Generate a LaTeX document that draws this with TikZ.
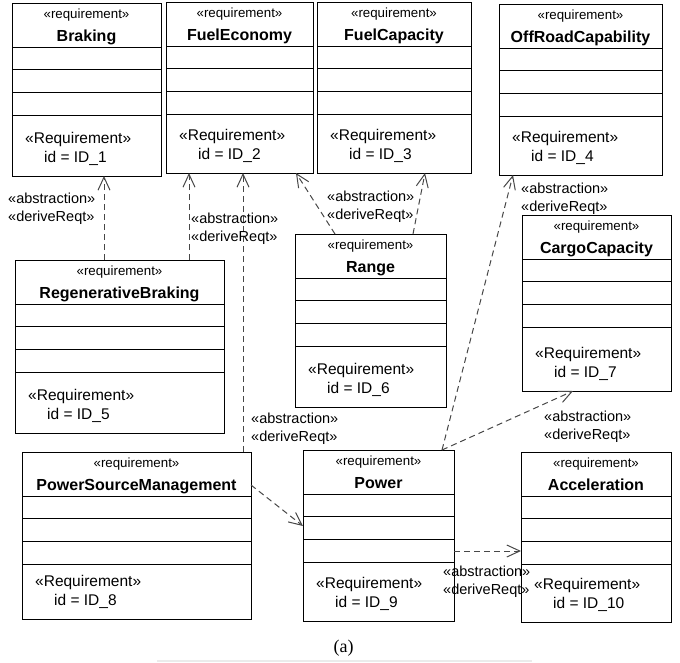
\documentclass[tikz,border=0pt]{standalone}
\usepackage{fontspec}
\setmainfont{Liberation Sans}
\newfontfamily\capfont{Liberation Serif}
\usetikzlibrary{arrows.meta,calc}
\newcommand{\reqbox}[7]{%
  \node[rbox, minimum width=#4pt, minimum height=#5pt, anchor=north west] (#1) at (#2,#3) {};
  \foreach \d in {44,66.5,89,112}{\draw[rline] ([yshift=-\d pt]#1.north west) -- ([yshift=-\d pt]#1.north east);}
  \node[stereo] (#1-st) at ([yshift=-15pt]#1.north) {«requirement»};
  \node[rtitle] (#1-ti) at ([yshift=-38pt]#1.north) {#6};
  \node[rtxt] (#1-rq) at ([xshift=13pt,yshift=33pt]#1.south west) {«Requirement»};
  \node[rtxt] (#1-id) at ([xshift=32pt,yshift=14pt]#1.south west) {id = ID\_#7};
}
\begin{document}
\begin{tikzpicture}[x=1pt,y=-1pt,
  rbox/.style={draw=black, line width=1pt, rectangle, inner sep=0pt, outer sep=0pt},
  rline/.style={draw=black, line width=1pt},
  stereo/.style={font=\fontsize{13.3}{15}\selectfont, inner sep=0pt, anchor=base},
  rtitle/.style={font=\fontsize{16}{18}\selectfont\bfseries, inner sep=0pt, anchor=base},
  rtxt/.style={font=\fontsize{15.5}{18}\selectfont, inner sep=0pt, anchor=base west},
  lbl/.style={font=\fontsize{14.5}{18}\selectfont, inner sep=0pt, anchor=west, align=left},
  dep/.style={draw=black!72, line width=1pt, dash pattern=on 6pt off 4pt, -{Straight Barb[length=13pt,width=12pt]}}]
\useasboundingbox (0,0) rectangle (680,662);

\reqbox{Braking}{12}{3}{149}{173}{Braking}{1}
\reqbox{FuelEconomy}{166}{2}{147}{171}{FuelEconomy}{2}
\reqbox{FuelCapacity}{317}{2}{154}{171}{FuelCapacity}{3}
\reqbox{OffRoad}{499}{4}{163}{171}{OffRoadCapability}{4}
\reqbox{RegBraking}{15}{260}{209}{173}{RegenerativeBraking}{5}
\reqbox{Range}{295}{234}{151}{173}{Range}{6}
\reqbox{Cargo}{522}{215}{149}{176}{CargoCapacity}{7}
\reqbox{PSM}{22}{452}{229}{167}{PowerSourceManagement}{8}
\reqbox{Power}{303}{450}{151}{171}{Power}{9}
\reqbox{Accel}{521}{452}{150}{170}{Acceleration}{10}

% connector end points
\coordinate (rb1) at ([xshift=89pt]RegBraking.north west);
\coordinate (rb2) at ([xshift=174pt]RegBraking.north west);
\coordinate (ps1) at ([xshift=221pt]PSM.north west);
\coordinate (ra1) at ([xshift=40pt]Range.north west);
\coordinate (fe1) at ([xshift=-17pt]FuelEconomy.south east);
\coordinate (ra2) at ([xshift=118pt]Range.north west);
\coordinate (fc1) at ([xshift=108pt]FuelCapacity.south west);
\coordinate (pw1) at ([xshift=139pt]Power.north west);
\coordinate (or1) at ([xshift=14pt]OffRoad.south west);
\coordinate (cc1) at ([xshift=51pt]Cargo.south west);
\coordinate (ps2) at ([yshift=-33pt]PSM.north east);
\coordinate (pw2) at ([yshift=-76pt]Power.north west);
\coordinate (pw3) at ([yshift=-101pt]Power.north east);

\draw[dep] (rb1) -- (rb1 |- Braking.south);
\draw[dep] (rb2) -- (rb2 |- FuelEconomy.south);
\draw[dep] (ps1) -- (ps1 |- FuelEconomy.south);
\draw[dep] (ra1) -- (fe1);
\draw[dep] (ra2) -- (fc1);
\draw[dep] (pw1) -- (or1);
\draw[dep] (pw1) -- (cc1);
\draw[dep] (ps2) -- (pw2);
\draw[dep] (pw3) -- (pw3 -| Accel.west);

% labels
\node[lbl] (l1) at (8,209.2) {«abstraction»\\«deriveReqt»};
\node[lbl] (l2) at (191,229.2) {«abstraction»\\«deriveReqt»};
\node[lbl] (l3) at (327,207.2) {«abstraction»\\«deriveReqt»};
\node[lbl] (l4) at (521,199.2) {«abstraction»\\«deriveReqt»};
\node[lbl] (l5) at (251,429.2) {«abstraction»\\«deriveReqt»};
\node[lbl] (l6) at (544,427.2) {«abstraction»\\«deriveReqt»};
\node[lbl] (l7) at (443,582.2) {«abstraction»\\«deriveReqt»};

\node[font=\capfont\fontsize{18}{20}\selectfont] (cap) at (343.5,648) {(a)};
\fill[black!8] (157,660) rectangle (532,662);
\end{tikzpicture}
\end{document}
